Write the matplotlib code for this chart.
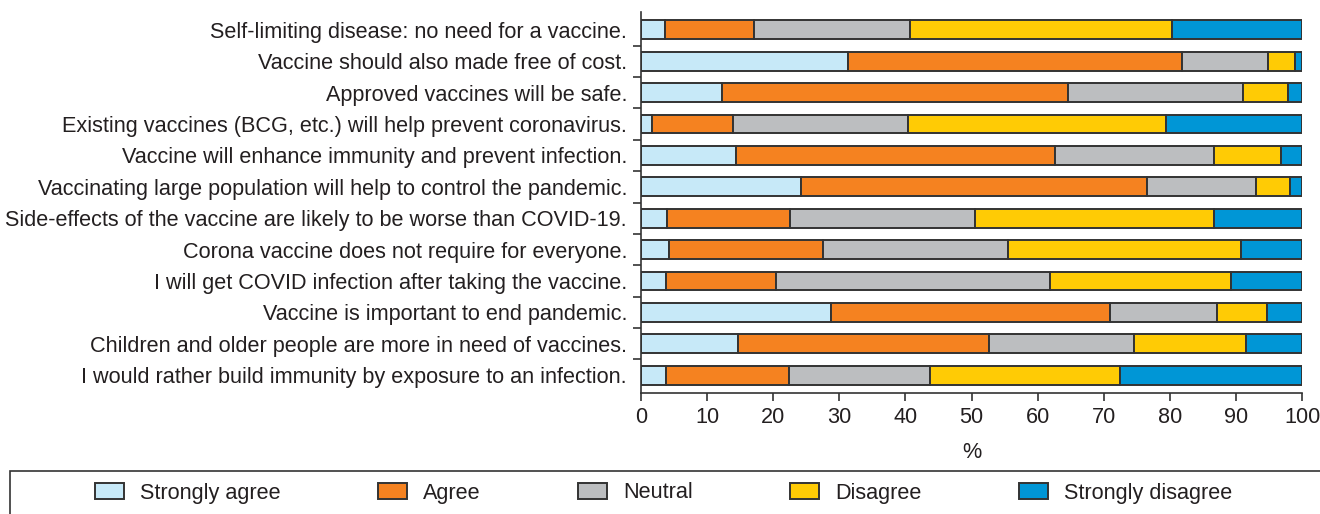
import matplotlib
matplotlib.use("Agg")
import matplotlib.pyplot as plt
import numpy as np
from matplotlib.patches import Rectangle

plt.rcParams['font.family'] = ['Liberation Sans', 'DejaVu Sans']

statements = [
    "Self-limiting disease: no need for a vaccine.",
    "Vaccine should also made free of cost.",
    "Approved vaccines will be safe.",
    "Existing vaccines (BCG, etc.) will help prevent coronavirus.",
    "Vaccine will enhance immunity and prevent infection.",
    "Vaccinating large population will help to control the pandemic.",
    "Side-effects of the vaccine are likely to be worse than COVID-19.",
    "Corona vaccine does not require for everyone.",
    "I will get COVID infection after taking the vaccine.",
    "Vaccine is important to end pandemic.",
    "Children and older people are more in need of vaccines.",
    "I would rather build immunity by exposure to an infection.",
]

# percent per answer, same order as statements
strongly_agree = [3.6, 31.3, 12.3, 1.7, 14.4, 24.2, 3.9, 4.2, 3.8, 28.8, 14.6, 3.8]
agree = [13.5, 50.5, 52.3, 12.2, 48.2, 52.4, 18.6, 23.4, 16.6, 42.2, 38.0, 18.6]
neutral = [23.6, 13.1, 26.4, 26.5, 24.1, 16.4, 28.0, 27.9, 41.5, 16.1, 22.0, 21.3]
disagree = [39.6, 4.0, 6.9, 39.0, 10.1, 5.2, 36.2, 35.2, 27.3, 7.6, 17.0, 28.7]
strongly_disagree = [19.7, 1.1, 2.1, 20.6, 3.2, 1.8, 13.3, 9.3, 10.8, 5.3, 8.4, 27.6]

answers = ["Strongly agree", "Agree", "Neutral", "Disagree", "Strongly disagree"]
colors = ["#c7e9f8", "#f58220", "#bcbec0", "#ffcb05", "#0096d6"]
series = [strongly_agree, agree, neutral, disagree, strongly_disagree]

txt = "#231f20"
edge = "#333333"
fs = 15.6

fig = plt.figure(figsize=(13.2, 5.14), dpi=100)
ax = fig.add_axes([641 / 1320, 1 - 393 / 514, 661 / 1320, 381 / 514])

y = np.arange(len(statements))
left = np.zeros(len(statements))
for name, vals, c in zip(answers, series, colors):
    ax.barh(y, vals, left=left, height=0.6, color=c, edgecolor=edge,
            linewidth=1.4, label=name)
    left += np.array(vals)

ax.set_xlim(0, 100)
ax.set_ylim(len(statements) - 0.43, -0.57)
ax.set_xticks(range(0, 101, 10))
ax.set_yticks(y)
ax.set_yticklabels(statements)
ax.set_yticks(y[1:] - 0.5, minor=True)
ax.tick_params(axis='y', which='major', length=0, pad=10, labelsize=fs, labelcolor=txt)
ax.tick_params(axis='y', which='minor', length=6, width=1.2, color=edge, direction='out')
ax.tick_params(axis='x', length=6, width=1.2, color=edge, direction='out',
               labelsize=fs, labelcolor=txt, pad=4)
ax.set_xlabel("%", fontsize=fs, color=txt, labelpad=10)
for s in ['top', 'right']:
    ax.spines[s].set_visible(False)
for s in ['left', 'bottom']:
    ax.spines[s].set_color(edge)
    ax.spines[s].set_linewidth(1.2)

# legend frame that runs off the bottom/right edge like the source
fig.patches.append(Rectangle((10 / 1320, -0.05), 1.2, 1 - 471 / 514 + 0.05,
                             transform=fig.transFigure, fill=False,
                             edgecolor=edge, linewidth=1.2))
handles, labels = ax.get_legend_handles_labels()
leg = fig.legend(handles, labels, ncol=5, loc='center left',
                 bbox_to_anchor=(95 / 1320, 1 - 493 / 514), frameon=False,
                 fontsize=fs, handlelength=1.35, handleheight=0.8,
                 handletextpad=0.72, columnspacing=4.5, borderaxespad=0,
                 borderpad=0)
for t in leg.get_texts():
    t.set_color(txt)

plt.savefig("out.png")
